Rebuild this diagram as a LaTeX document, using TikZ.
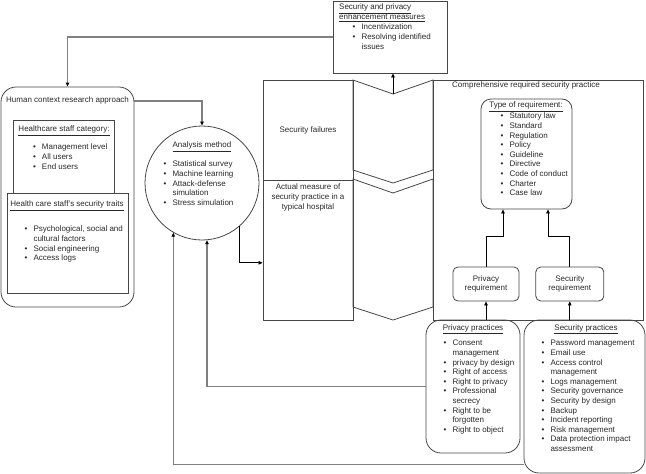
\documentclass[tikz,border=0pt]{standalone}
\usepackage{fontspec}
\setmainfont{Liberation Sans}
\usetikzlibrary{positioning,calc,arrows.meta}
\definecolor{myline}{RGB}{70,70,70}
\definecolor{mygray}{RGB}{128,128,128}
\definecolor{mytext}{RGB}{40,40,40}
\newcommand{\bul}{\textbullet}

\begin{document}
\begin{tikzpicture}[x=1pt,y=-1pt,
  box/.style={draw=myline,line width=0.8pt,inner sep=0pt},
  rbox/.style={box,rounded corners=15pt},
  txt/.style={font=\fontsize{8}{9.6}\selectfont,text=mytext,inner sep=0pt,align=left},
  arr/.style={draw=black,line width=0.7pt,-{Triangle[length=4pt,width=3.5pt]}},
  fb/.style={draw=mygray,line width=1.4pt,-{Triangle[length=4pt,width=3.5pt,color=black]}}]

  \useasboundingbox (0,0) rectangle (646,474);

  % enhancement measures
  \node[box,minimum width=114,minimum height=72] (enh) at (390,37) {};
  \node[txt,anchor=north west] (enht) at (339,4) {\underline{Security and privacy}\\\underline{enhancement measures}};
  \node[txt,anchor=north west] (enhl) at (352.5,23) {\begin{tabular}{@{}l@{\hspace{6pt}}l@{}}
    \bul & Incentivization\\ \bul & Resolving identified\\ & issues\end{tabular}};

  % human context
  \node[rbox,minimum width=133,minimum height=220] (hum) at (67.5,197) {};
  \node[txt,anchor=north west] (humt) at (6,97) {Human context research approach};
  \node[box,minimum width=101,minimum height=73] (cat) at (63.5,156.5) {};
  \node[txt,anchor=north] (catt) at (64,126) {\underline{Healthcare staff category:}};
  \node[txt,anchor=north west] (catl) at (33,143) {\begin{tabular}{@{}l@{\hspace{6pt}}l@{}}
    \bul & Management level\\ \bul & All users\\ \bul & End users\end{tabular}};
  \node[box,minimum width=121,minimum height=100] (trt) at (67.5,243) {};
  \node[txt,anchor=north] (trtt) at (67,201) {\underline{Health care staff's security traits}};
  \node[txt,anchor=north west] (trtl) at (24.5,225) {\begin{tabular}{@{}l@{\hspace{6pt}}l@{}}
    \bul & Psychological, social and\\ & cultural factors\\ \bul & Social engineering\\ \bul & Access logs\end{tabular}};

  % analysis method
  \node[draw=myline,line width=0.8pt,circle,minimum size=114] (ana) at (202,183) {};
  \node[txt,anchor=north] (anat) at (202,142) {\underline{Analysis method}};
  \node[txt,anchor=north west] (anal) at (163.5,160) {\begin{tabular}{@{}l@{\hspace{6pt}}l@{}}
    \bul & Statistical survey\\ \bul & Machine learning\\ \bul & Attack-defense\\ & simulation\\ \bul & Stress simulation\end{tabular}};

  % failures and measures
  \node[box,minimum width=90,minimum height=100] (fail) at (308,130) {};
  \node[txt] (failt) at (fail.center) {Security failures};
  \node[box,minimum width=90,minimum height=140,below=0pt of fail] (meas) {};
  \node[txt,align=center,anchor=north] (meast) at (308,184) {Actual measure of\\security practice in a\\typical hospital};

  % chevrons
  \draw[myline,line width=0.8pt] (353,80) -- (393,94) -- (433,80) -- (433,170) -- (393,183) -- (353,170) -- cycle;
  \draw[myline,line width=0.8pt] (353,179) -- (393,193) -- (433,179) -- (433,307) -- (393,320) -- (353,307) -- cycle;
  \coordinate (tip) at (393,94);

  % comprehensive practice
  \node[box,minimum width=210,minimum height=240] (comp) at (538,200) {};
  \node[txt,anchor=north] (compt) at (526,82) {Comprehensive required security practice};
  \node[box,rounded corners=10pt,minimum width=91,minimum height=110] (typ) at (526.5,154) {};
  \node[txt,anchor=north] (typt) at (526,102) {\underline{Type of requirement:}};
  \node[txt,anchor=north west] (typl) at (500.5,112) {\begin{tabular}{@{}l@{\hspace{6pt}}l@{}}
    \bul & Statutory law\\ \bul & Standard\\ \bul & Regulation\\ \bul & Policy\\ \bul & Guideline\\
    \bul & Directive\\ \bul & Code of conduct\\ \bul & Charter\\ \bul & Case law\end{tabular}};
  \node[box,rounded corners=5pt,minimum width=66,minimum height=34,txt,draw=myline,align=center] (preq) at (486,284) {Privacy\\requirement};
  \node[box,rounded corners=5pt,minimum width=68,minimum height=34,txt,draw=myline,align=center,right=16pt of preq] (sreq) {Security\\requirement};

  % practices
  \node[rbox,minimum width=94,minimum height=133] (ppr) at (473,386.5) {};
  \node[txt,anchor=north] (pprt) at (473,324) {\underline{Privacy practices}};
  \node[txt,anchor=north west] (pprl) at (443.5,339) {\begin{tabular}{@{}l@{\hspace{6pt}}l@{}}
    \bul & Consent\\ & management\\ \bul & privacy by design\\ \bul & Right of access\\ \bul & Right to privacy\\
    \bul & Professional\\ & secrecy\\ \bul & Right to be\\ & forgotten\\ \bul & Right to object\end{tabular}};
  \node[rbox,minimum width=121,minimum height=153] (spr) at (584.5,396.5) {};
  \node[txt,anchor=north] (sprt) at (586,324) {\underline{Security practices}};
  \node[txt,anchor=north west] (sprl) at (541.5,339) {\begin{tabular}{@{}l@{\hspace{6pt}}l@{}}
    \bul & Password management\\ \bul & Email use\\ \bul & Access control\\ & management\\ \bul & Logs management\\
    \bul & Security governance\\ \bul & Security by design\\ \bul & Backup\\ \bul & Incident reporting\\
    \bul & Risk management\\ \bul & Data protection impact\\ & assessment\end{tabular}};

  % connectors
  \draw[fb] (enh.west) -| (hum.north);
  \draw[fb] (hum.east |- humt.east) -| (ana.north);
  \draw[arr] (ana.-49) |- ([yshift=-12pt]meas.west);
  \draw[arr] (tip) -- (tip |- enh.south);
  \draw[arr] (preq.north) -- ++(0,-30) -| ([xshift=-23.5pt]typ.south);
  \draw[arr] (sreq.north) -- ++(0,-30) -| ([xshift=21.5pt]typ.south);
  \draw[arr] (preq.south |- ppr.north) -- (preq.south);
  \draw[arr] (sreq.south |- spr.north) -- (sreq.south);
  \draw[fb] (ppr.west) -| (ana.-85);
  \draw[fb] ([yshift=9pt]spr.south west) -| (ana.-120);
\end{tikzpicture}
\end{document}
